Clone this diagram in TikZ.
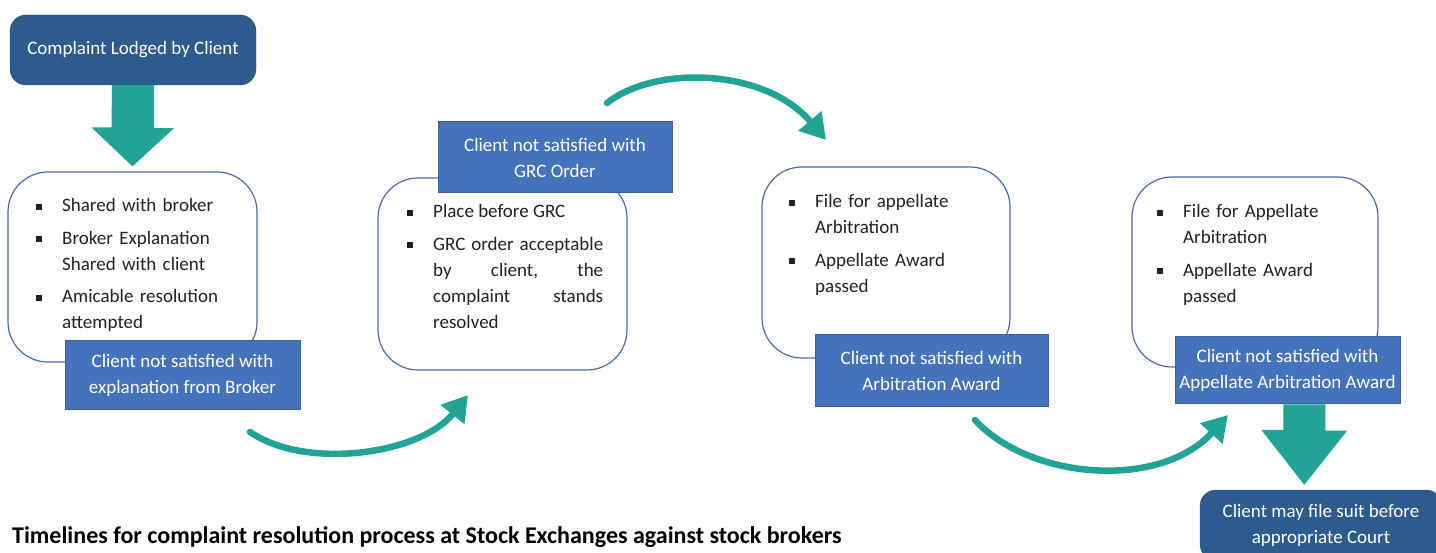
\documentclass[tikz,border=0pt]{standalone}
\usepackage{fontspec}
\setmainfont{Carlito}
\usetikzlibrary{arrows.meta,calc}
\definecolor{darkbox}{HTML}{2D5B8D}
\definecolor{midbox}{HTML}{4573BB}
\definecolor{midline}{HTML}{3A62A2}
\definecolor{roundline}{HTML}{4B6BA9}
\definecolor{arrowteal}{HTML}{21A396}
\definecolor{textgray}{HTML}{222222}
\newcommand{\nl}{\unskip\nobreak\hfil\break}
\newcommand{\bitem}[1]{\par\hangindent=26pt\hangafter=1\noindent\makebox[26pt][l]{\rule[2pt]{6pt}{6pt}}#1\par}

\begin{document}
\begin{tikzpicture}[x=1pt,y=-1pt,
  every node/.style={font=\fontsize{19}{26}\selectfont},
  darknode/.style={fill=darkbox,draw=darkbox!85!black,rounded corners=16pt,text=white,align=center,inner sep=0pt},
  bluenode/.style={fill=midbox,draw=midline,line width=1pt,text=white,align=center,inner sep=0pt},
  roundnode/.style={draw=roundline,line width=1.2pt,fill=white,rounded corners=40pt,inner sep=0pt},
  items/.style={anchor=north west,inner sep=0pt,text width=210pt,align=left,text=textgray,font=\fontsize{19}{26}\selectfont\setlength{\parskip}{6.5pt}},
  bigarrow/.style={fill=arrowteal},
  curvearrow/.style={draw=arrowteal,line width=6.5pt,line cap=round,-{Triangle[length=25pt,width=29pt]}}]
\useasboundingbox (0,0) rectangle (1436,553);

\node[darknode,minimum width=246pt,minimum height=70pt] (lodged) at (133,50) {Complaint Lodged by Client};

\node[roundnode,minimum width=249pt,minimum height=190pt] (step1) at (132.5,267) {};
\node[roundnode,minimum width=249pt,minimum height=192pt] (step2) at (502.5,274) {};
\node[roundnode,minimum width=248pt,minimum height=191pt] (step3) at (886,262.5) {};
\node[roundnode,minimum width=246pt,minimum height=190pt] (step4) at (1255,272) {};

\node[items] (list1) at (36,179) {\bitem{Shared with broker}\bitem{Broker Explanation\nl Shared with client}\bitem{Amicable resolution\nl attempted}};
\node[items,text width=196pt,align=justify] (list2) at (407,185) {\bitem{Place before GRC}\bitem{GRC\hfill order\hfill acceptable\nl by\hfill client,\hfill the\nl complaint\hfill stands\nl resolved}};
\node[items] (list3) at (789,175) {\bitem{File for appellate\nl Arbitration}\bitem{Appellate Award\nl passed}};
\node[items] (list4) at (1157,185) {\bitem{File for Appellate\nl Arbitration}\bitem{Appellate Award\nl passed}};

\node[bluenode,minimum width=235pt,minimum height=69pt] (broker) at (182.5,375.5) {Client not satisfied with\\explanation from Broker};
\node[bluenode,minimum width=234pt,minimum height=71pt] (grc) at (555,157.5) {Client not satisfied with\\GRC Order};
\node[bluenode,minimum width=233pt,minimum height=72pt] (arb) at (931.5,371) {Client not satisfied with\\Arbitration Award};
\node[bluenode,minimum width=225pt,minimum height=67pt] (apparb) at (1287.5,370.5) {Client not satisfied with\\Appellate Arbitration Award};
\node[darknode,minimum width=242pt,minimum height=70pt] (court) at (1321,525) {Client may file suit before\\appropriate Court};

\fill[bigarrow] ([xshift=-21pt]lodged.south) -- ++(42,0) -- ++(0,43) -- ++(20,0) -- ([yshift=5pt]step1.north) -- ++(-41,-39) -- ++(20,0) -- cycle;

\coordinate (dn) at ($(apparb.south)!.5!(court.north)$);
\coordinate (dntop) at (dn |- apparb.south);
\coordinate (dntip) at (dn |- court.north);
\fill[bigarrow] ([xshift=-21pt]dntop) -- ++(42,0) -- ++(0,26) -- ++(22,0) -- ([yshift=5pt]dntip) -- ++(-43,-55) -- ++(22,0) -- cycle;

\coordinate (c1s) at (250,432);
\coordinate (c1e) at (468,395);
\coordinate (c2s) at (607,103);
\coordinate (c2e) at (826,140);
\coordinate (c3s) at (975,420);
\coordinate (c3e) at (1228,415);
\draw[curvearrow] (c1s) .. controls (305,470) and (420,455) .. (c1e);
\draw[curvearrow] (c2s) .. controls (655,65) and (765,68) .. (c2e);
\draw[curvearrow] (c3s) .. controls (1030,480) and (1160,490) .. (c3e);

\node[anchor=base west,inner sep=0pt,text=black,font=\fontsize{24}{28}\selectfont\bfseries] (caption) at (12,543) {Timelines for complaint resolution process at Stock Exchanges against stock brokers};
\end{tikzpicture}
\end{document}
